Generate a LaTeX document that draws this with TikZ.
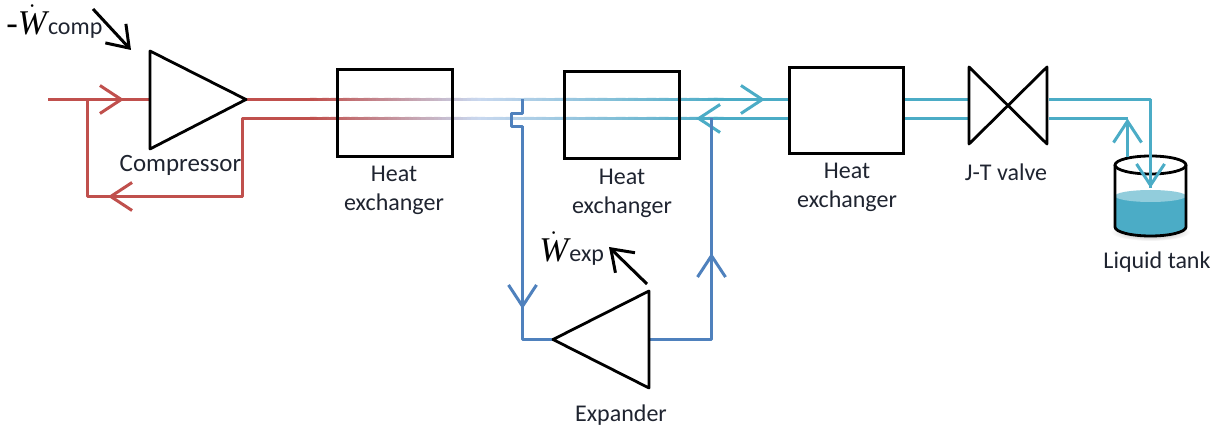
\documentclass[tikz,border=0pt]{standalone}
\usepackage{amsmath,amssymb}
\usepackage{fontspec}
\setmainfont{Carlito}
\newfontfamily\powerfont{Liberation Serif}
\usetikzlibrary{arrows.meta,calc}
\definecolor{hotred}{HTML}{C0504D}
\definecolor{palepipe}{HTML}{C9D8EF}
\definecolor{coldteal}{HTML}{4BACC6}
\definecolor{expblue}{HTML}{4F81BD}
\definecolor{liquidtop}{HTML}{92CDDC}
\definecolor{labeltext}{HTML}{1F2430}
\tikzset{
  unit/.style={black,line width=2.1pt,line join=round},
  hxbox/.style={draw=black,line width=2.1pt,minimum width=86pt,minimum height=65pt,inner sep=0pt},
  pipe/.style={line width=2.25pt,line join=round},
  barb/.style={-{Straight Barb[length=16pt,width=21pt,line width=2.25pt]}},
  workbarb/.style={line width=2.25pt,-{Straight Barb[length=15pt,width=21pt,line width=2.25pt]}},
  tag/.style={font=\fontsize{18}{20}\selectfont,text=labeltext,align=center,inner sep=0pt},
  powersym/.style={font=\fontsize{26}{28}\selectfont\powerfont,text=black,inner sep=0pt,anchor=base west}
}
\newcommand{\workdot}{$\dot{\mbox{\itshape W}}$}
\newcommand{\worksub}[1]{\kern 1pt{\normalfont\fontsize{18}{20}\selectfont\color{labeltext}#1}}
\begin{document}
\begin{tikzpicture}[x=0.75pt,y=-0.75pt]
  \useasboundingbox (0,0) rectangle (1213,427);

  \coordinate (feed) at (48,99.5);
  \coordinate (mixer) at (87.5,99.5);
  \coordinate (feedTip) at (124,99.5);
  \coordinate (compIn) at (150,99.5);
  \coordinate (compOut) at (246,99.5);
  \coordinate (recycleOut) at (242.5,118.5);
  \coordinate (recycleTurn) at (242.5,196.5);
  \coordinate (recycleTip) at (108,196.5);
  \coordinate (recycleEnd) at (87.5,196.5);
  \coordinate (upFadeA) at (310,99.5);
  \coordinate (upFadeB) at (475,99.5);
  \coordinate (upFadeC) at (720,99.5);
  \coordinate (loFadeA) at (310,118.5);
  \coordinate (loFadeB) at (475,118.5);
  \coordinate (loFadeC) at (720,118.5);
  \coordinate (upTip) at (765,99.5);
  \coordinate (upEnd) at (789,99.5);
  \coordinate (loTip) at (696,118.5);
  \coordinate (loEnd) at (789,118.5);
  \coordinate (tapTop) at (522.5,99.5);
  \coordinate (tapLeft) at (511.5,113.5);
  \coordinate (tapLow) at (511.5,126.5);
  \coordinate (tapDown) at (522.5,126.5);
  \coordinate (tapTip) at (522.5,309);
  \coordinate (tapCorner) at (522.5,339.5);
  \coordinate (expIn) at (553,339.5);
  \coordinate (expOut) at (649,339.5);
  \coordinate (backCorner) at (711.5,339.5);
  \coordinate (backTip) at (711.5,253);
  \coordinate (backEnd) at (711.5,118.5);
  \coordinate (valveInUp) at (904,99.5);
  \coordinate (valveInLo) at (904,118.5);
  \coordinate (valveUp) at (968,99.5);
  \coordinate (valveLo) at (968,118.5);
  \coordinate (valveOutUp) at (1049,99.5);
  \coordinate (valveOutLo) at (1049,118.5);
  \coordinate (dropTurn) at (1150.5,99.5);
  \coordinate (dropTip) at (1150.5,188);
  \coordinate (riseTop) at (1127.5,118.5);
  \coordinate (riseStart) at (1127.5,157);

  \shade[inner color=black!40,outer color=white] (1150.5,232) ellipse [x radius=40,y radius=9];
  \fill[coldteal] (1115,196) -- (1115,227) arc [start angle=180,end angle=0,x radius=35.5,y radius=9] -- (1186,196) -- cycle;
  \fill[liquidtop] (1150.5,196) ellipse [x radius=35.5,y radius=6];
  \draw[unit] (1115,165) -- (1115,227) arc [start angle=180,end angle=0,x radius=35.5,y radius=9] -- (1186,165);
  \draw[unit] (1150.5,165) ellipse [x radius=35.5,y radius=9];

  \draw[pipe,hotred] (feed) -- (compIn);
  \draw[pipe,hotred,barb] (mixer) -- (feedTip);
  \draw[pipe,hotred] (mixer) -- (recycleEnd) -- (recycleTurn) -- (recycleOut) -- (loFadeA);
  \draw[pipe,hotred,barb] (recycleTurn) -- (recycleTip);
  \draw[pipe,hotred] (compOut) -- (upFadeA);
  \foreach \row in {up,lo} {
    \foreach \t in {0,...,39} {
      \pgfmathsetmacro{\share}{100-2.5*\t}
      \draw[pipe,color=palepipe!\share!coldteal] ($(\row FadeB)!\t/40!(\row FadeC)$) -- ($(\row FadeB)!\t/40+0.04!(\row FadeC)$);
      \draw[pipe,color=hotred!\share!palepipe] ($(\row FadeA)!\t/40!(\row FadeB)$) -- ($(\row FadeA)!\t/40+0.04!(\row FadeB)$);
    }
  }
  \draw[pipe,coldteal] (upFadeC) -- (upEnd);
  \draw[pipe,coldteal,barb] (upFadeC) -- (upTip);
  \draw[pipe,coldteal] (loFadeC) -- (loEnd);
  \draw[pipe,coldteal,barb] (loFadeC) -- (loTip);

  \draw[pipe,expblue] (tapTop) |- (tapLeft) -- (tapLow) -- (tapDown) -- (tapCorner) -- (expIn);
  \draw[pipe,expblue,barb] (tapDown) -- (tapTip);
  \draw[pipe,expblue] (expOut) -- (backCorner) -- (backEnd);
  \draw[pipe,expblue,barb] (backCorner) -- (backTip);

  \draw[pipe,coldteal] (valveInUp) -- (valveUp);
  \draw[pipe,coldteal] (valveInLo) -- (valveLo);
  \draw[pipe,coldteal] (valveOutUp) -- (dropTurn) -- (dropTip);
  \draw[pipe,coldteal,barb] (dropTurn) -- (dropTip);
  \draw[pipe,coldteal] (valveOutLo) -- (riseTop);
  \draw[pipe,coldteal,barb] (riseStart) -- (riseTop);

  \node[hxbox] (hxOne) at (395,113) {};
  \node[hxbox] (hxTwo) at (622,115) {};
  \node[hxbox] (hxThree) at (846.5,110.5) {};
  \draw[unit] (150,51) -- (compOut) -- (150,149) -- cycle;
  \draw[unit] (expIn) -- (649,291) -- (649,388) -- cycle;
  \draw[unit] (969,67) -- (1047,144) -- (1047,67) -- (969,144) -- cycle;

  \coordinate (wcompFrom) at (93,9);
  \coordinate (wcompTip) at (131,50);
  \coordinate (wexpFrom) at (647,284);
  \coordinate (wexpTip) at (609,247);
  \draw[workbarb] (wcompFrom) -- (wcompTip);
  \draw[workbarb] (wexpFrom) -- (wexpTip);

  \node[tag,font=\fontsize{18.7}{20}\selectfont] (compLabel) at (180.5,165) {Compressor};
  \node[tag] (hxOneLabel) at (394,190) {Heat\\[1.7pt]exchanger};
  \node[tag] (hxTwoLabel) at (622,193.5) {Heat\\[1.7pt]exchanger};
  \node[tag] (hxThreeLabel) at (847,187.5) {Heat\\[1.7pt]exchanger};
  \node[tag] (valveLabel) at (1006,172) {J-T valve};
  \node[tag] (tankLabel) at (1157,262) {Liquid tank};
  \node[tag] (expLabel) at (621,415) {Expander};

  \node[powersym] (wcompSym) at (6,35) {-\workdot\worksub{comp}};
  \node[powersym] (wexpSym) at (539,262) {\workdot\worksub{exp}};
\end{tikzpicture}
\end{document}
